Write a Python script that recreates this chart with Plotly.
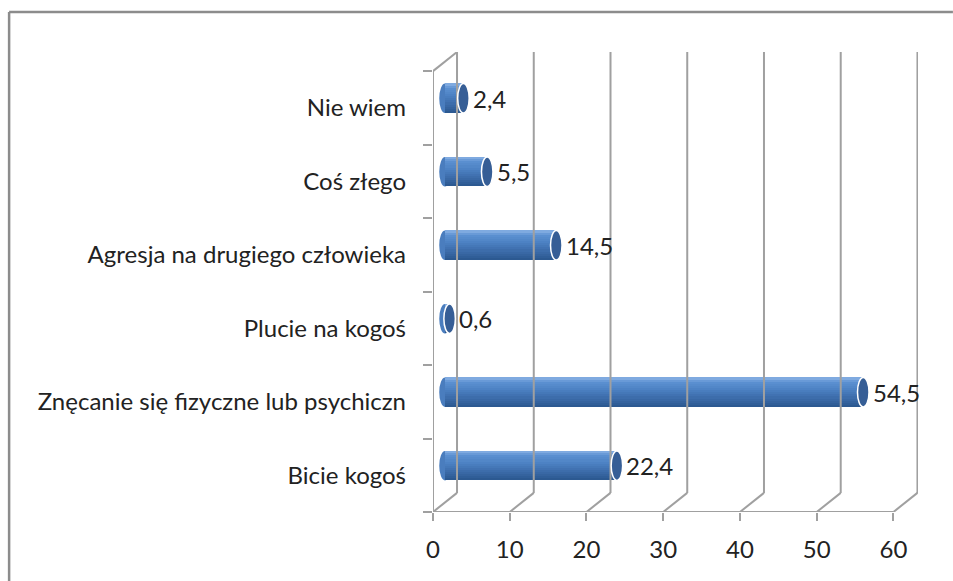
import plotly.graph_objects as go

categories = ["Bicie kogoś", "Znęcanie się fizyczne lub psychiczn", "Plucie na kogoś",
              "Agresja na drugiego człowieka", "Coś złego", "Nie wiem"]
values = [22.4, 54.5, 0.6, 14.5, 5.5, 2.4]
tick_values = [0, 10, 20, 30, 40, 50, 60]

# pseudo 3D box: depth offsets in axis units
dx = 3.13
dy = 0.26
base = dx / 2
pos = [i + dy / 2 for i in range(len(categories))]
n = len(categories)
grid_col = "#A0A0A0"


def mix(c1, c2, t):
    a = [int(c1[k:k + 2], 16) for k in (1, 3, 5)]
    b = [int(c2[k:k + 2], 16) for k in (1, 3, 5)]
    return "#" + "".join(f"{round(x + (y - x) * t):02x}" for x, y in zip(a, b))


fig = go.Figure()

# back wall gridlines
gx, gy = [], []
for v in tick_values:
    gx += [v + dx, v + dx, None]
    gy += [-0.5 + dy, n - 0.5 + dy, None]
# floor diagonals
for v in tick_values:
    gx += [v, v + dx, None]
    gy += [-0.5, -0.5 + dy, None]
# front floor line, left front edge, top diagonal of side wall
gx += [0, 60, None, 0, 0, None, 0, dx]
gy += [-0.5, -0.5, None, -0.5, n - 0.5, None, n - 0.5, n - 0.5 + dy]
fig.add_trace(go.Scatter(x=gx, y=gy, mode="lines", line=dict(color=grid_col, width=2),
                         hoverinfo="skip", showlegend=False))

# cylinders drawn as thin shaded bands (bottom dark -> top light)
thick = 0.40
nb = 14
stops = [(0.0, "#2A568E"), (0.35, "#3F6FAE"), (0.6, "#4D82C4"), (0.85, "#5C91D2"), (1.0, "#8AB2E4")]
for k in range(nb):
    t = (k + 0.5) / nb
    for (t0, c0), (t1, c1) in zip(stops[:-1], stops[1:]):
        if t0 <= t <= t1:
            col = mix(c0, c1, (t - t0) / (t1 - t0))
            break
    fig.add_trace(go.Bar(y=pos, x=values, base=[base] * n, orientation="h",
                         width=thick / nb + 0.002, offset=-thick / 2 + k * thick / nb,
                         marker=dict(color=col, line=dict(width=0)),
                         hoverinfo="skip", showlegend=False))

shapes = []
for p, v in zip(pos, values):
    shapes.append(dict(type="circle", xref="x", yref="y", layer="below",
                       x0=base - 0.75, x1=base + 0.75, y0=p - thick / 2, y1=p + thick / 2,
                       fillcolor="#4A7DBE", line=dict(width=0)))
    shapes.append(dict(type="circle", xref="x", yref="y",
                       x0=base + v - 0.75, x1=base + v + 0.75, y0=p - thick / 2, y1=p + thick / 2,
                       fillcolor="#365E96", line=dict(color="white", width=1.5)))
    fig.add_annotation(x=base + v + 0.95, y=p, text=f"{v:.1f}".replace(".", ","),
                       xanchor="left", yanchor="middle", showarrow=False,
                       font=dict(size=24, color="#222222"))

# outer chart border (top and left edges only are in view)
border = dict(color="#8C8C8C", width=2.5)
shapes.append(dict(type="line", xref="paper", yref="paper", x0=-0.874, x1=1.072, y0=1.087, y1=1.087,
                   line=border))
shapes.append(dict(type="line", xref="paper", yref="paper", x0=-0.874, x1=-0.874, y0=-0.15, y1=1.087,
                   line=border))

fig.update_layout(
    width=953, height=581,
    margin=dict(l=433, r=35, t=52, b=69),
    plot_bgcolor="white", paper_bgcolor="white",
    font=dict(family="Lato", size=24, color="#222222"),
    barmode="overlay", bargap=0,
    shapes=shapes,
    xaxis=dict(range=[0, 60 + dx + 0.07], tickvals=tick_values, ticks="outside", ticklen=8,
               tickwidth=2, tickcolor=grid_col, showgrid=False, zeroline=False,
               showline=False, ticklabelstandoff=8, automargin=False),
    yaxis=dict(range=[-0.5, n - 0.5 + dy], tickvals=list(range(n)), ticktext=categories,
               ticks="", showgrid=False, zeroline=False, showline=False,
               ticklabelstandoff=26, automargin=False,
               minor=dict(tickvals=[i - 0.5 for i in range(n + 1)], ticks="outside",
                          ticklen=9, tickwidth=2, tickcolor=grid_col, showgrid=False)),
)

fig.write_html("out.html", config={"displayModeBar": False},
               post_script="document.body.style.margin='0';document.body.style.overflow='hidden';"
                           "document.documentElement.style.overflow='hidden';")
